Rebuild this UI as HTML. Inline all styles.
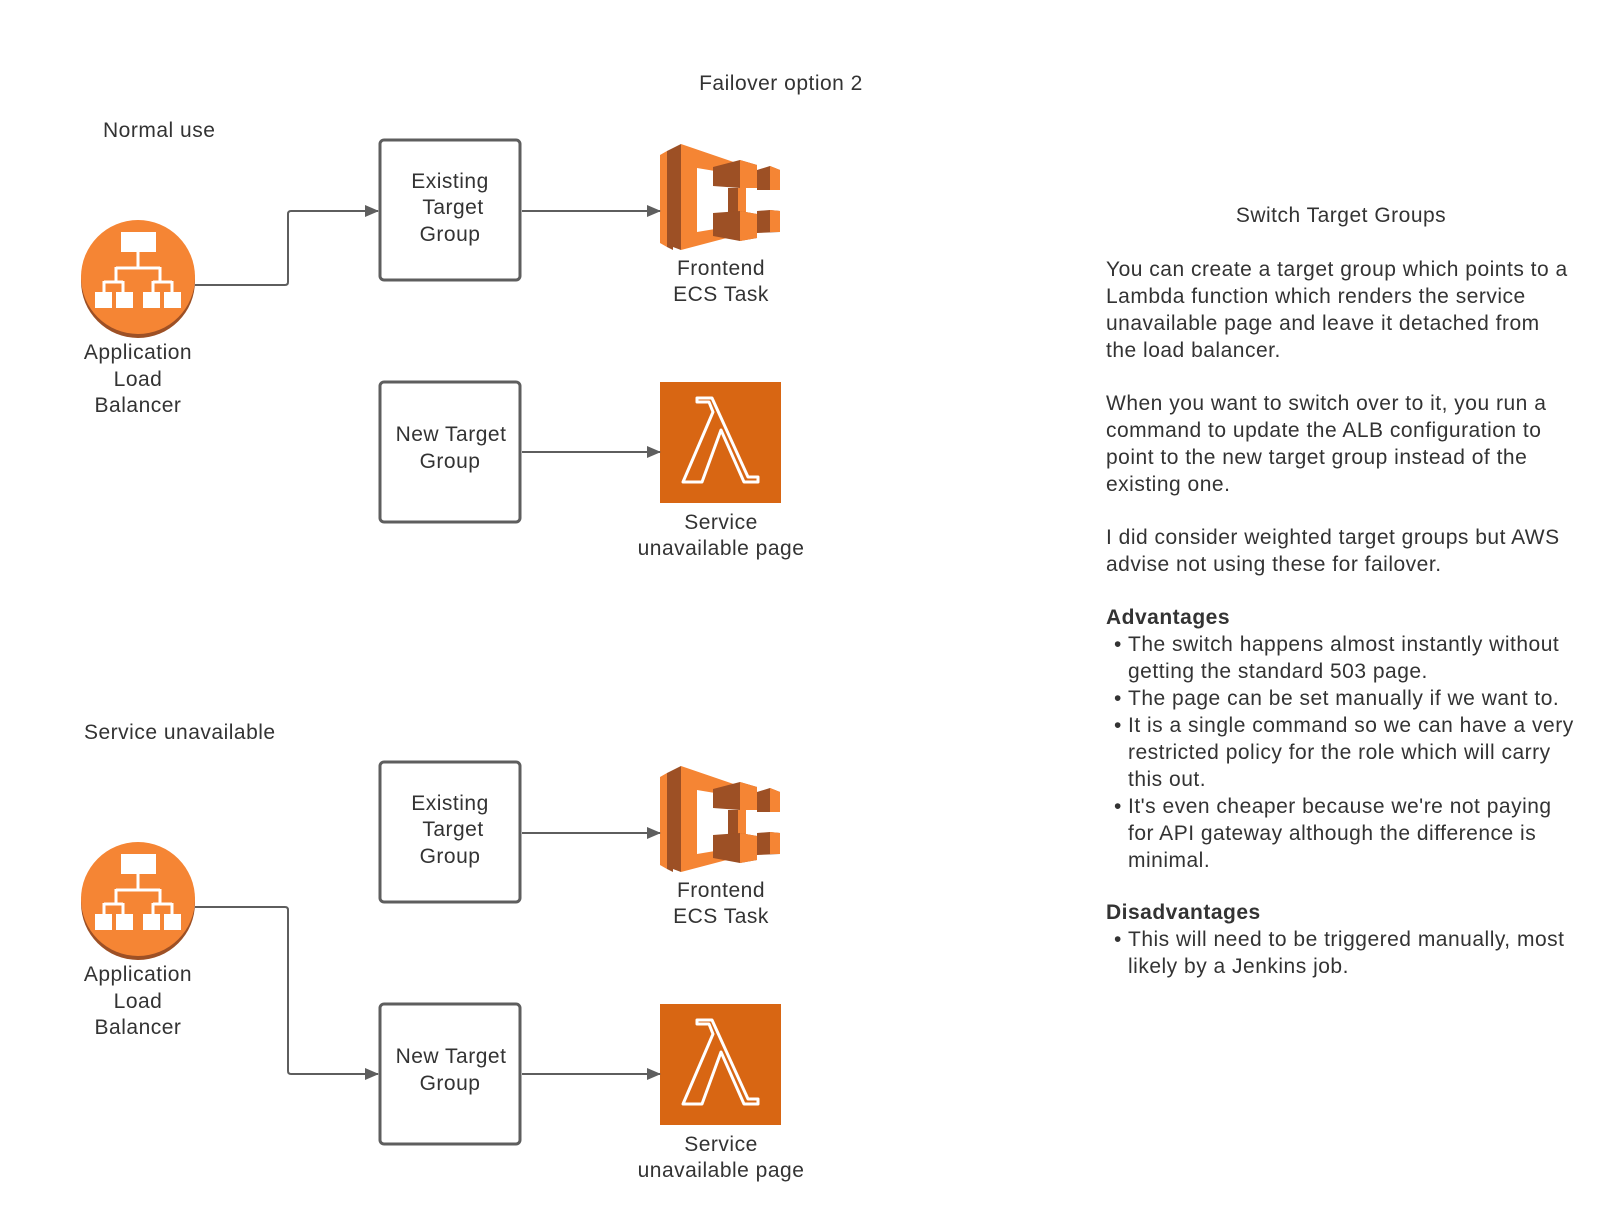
<!DOCTYPE html>
<html><head><meta charset="utf-8"><style>
html,body{margin:0;padding:0;background:#fff;}
svg{display:block;}
text{font-family:"Liberation Sans",Arial,sans-serif;fill:#333;font-size:21px;letter-spacing:0.5px;}
</style></head><body>
<svg width="1620" height="1214" viewBox="0 0 1620 1214" xmlns="http://www.w3.org/2000/svg">
<defs>
<marker id="ar" markerWidth="14" markerHeight="14" refX="13" refY="7" orient="auto" markerUnits="userSpaceOnUse">
<path d="M0,1 L14,7 L0,13 Z" fill="#5e5e5e"/></marker>
<g id="alb">
<circle cx="0" cy="4" r="57" fill="#9D5025"/>
<circle cx="0" cy="0" r="57" fill="#F58534"/>
<rect x="-17" y="-45" width="35" height="20" fill="#fff"/>
<path d="M0,-25 V-10 M-22,-9 H22 M-22,-10 V4 M22,-10 V4 M-34,5 H-15 M15,5 H34 M-34,4 V15 M-15,4 V15 M15,4 V15 M34,4 V15" stroke="#fff" stroke-width="3" fill="none"/>
<rect x="-43" y="15" width="17" height="16" fill="#fff"/>
<rect x="-22" y="15" width="17" height="16" fill="#fff"/>
<rect x="5" y="15" width="17" height="16" fill="#fff"/>
<rect x="26" y="15" width="17" height="16" fill="#fff"/>
</g>
<g id="ecs">
<polygon points="660,155 667,151 667,247 660,243" fill="#F58534"/>
<polygon points="667,151 673,148 673,250 667,247" fill="#9D5025"/>
<polygon points="673,148 681,144 681,250 673,247" fill="#9D5025"/>
<polygon points="681,144 757,170 757,178 697,168 697,232 757,222 757,230 681,250" fill="#F58534"/>
<polygon points="713,167 740,160 757,165 757,188 740,188 713,186" fill="#9D5025"/>
<polygon points="740,160 757,165 757,188 740,188" fill="#F58534"/>
<polygon points="757,170 770,166 780,170 780,190 757,190" fill="#9D5025"/>
<polygon points="770,166 780,170 780,190 770,190" fill="#F58534"/>
<rect x="728" y="188" width="10" height="24" fill="#9D5025"/>
<rect x="738" y="188" width="8" height="24" fill="#F58534"/>
<polygon points="713,213 740,211 757,214 757,238 740,241 713,236" fill="#9D5025"/>
<polygon points="740,211 757,214 757,238 740,241" fill="#F58534"/>
<polygon points="757,211 770,210 780,211 780,232 757,233" fill="#9D5025"/>
<polygon points="770,210 780,211 780,232 770,232" fill="#F58534"/>
</g>
<g id="lam">
<rect x="660" y="382" width="121" height="121" fill="#D86613"/>
<path d="M697,398 H712 L748,477 H758 V482 H744 L721,430 L702,482 H683 L713,412 L709,402 H697 Z" fill="none" stroke="#fff" stroke-width="3" stroke-linejoin="round"/>
</g>
<g id="sec">
<use href="#ecs"/>
<use href="#lam"/>
<rect x="380" y="140" width="140" height="140" rx="4" fill="#fff" stroke="#5e5e5e" stroke-width="3"/>
<text x="450" y="188" text-anchor="middle">Existing</text>
<text x="453" y="214" text-anchor="middle">Target</text>
<text x="450" y="241" text-anchor="middle">Group</text>
<path d="M522,211 H660" fill="none" stroke="#5e5e5e" stroke-width="2" marker-end="url(#ar)"/>
<text x="721" y="275" text-anchor="middle">Frontend</text>
<text x="721" y="301" text-anchor="middle">ECS Task</text>
<rect x="380" y="382" width="140" height="140" rx="4" fill="#fff" stroke="#5e5e5e" stroke-width="3"/>
<text x="451" y="441" text-anchor="middle">New Target</text>
<text x="450" y="468" text-anchor="middle">Group</text>
<path d="M522,452 H660" fill="none" stroke="#5e5e5e" stroke-width="2" marker-end="url(#ar)"/>
<text x="721" y="529" text-anchor="middle">Service</text>
<text x="721" y="555" text-anchor="middle">unavailable page</text>
<use href="#alb" x="138" y="277"/>
<text x="138" y="359" text-anchor="middle">Application</text>
<text x="138" y="386" text-anchor="middle">Load</text>
<text x="138" y="412" text-anchor="middle">Balancer</text>
</g>
</defs>

<text x="781" y="90" text-anchor="middle">Failover option 2</text>

<text x="103" y="137">Normal use</text>
<use href="#sec"/>
<path d="M195,285 H285 Q288,285 288,282 V214 Q288,211 291,211 H378" fill="none" stroke="#5e5e5e" stroke-width="2" marker-end="url(#ar)"/>

<g transform="translate(0,622)">
<use href="#sec"/>
<path d="M195,285 H285 Q288,285 288,288 V449 Q288,452 291,452 H378" fill="none" stroke="#5e5e5e" stroke-width="2" marker-end="url(#ar)"/>
</g>
<text x="84" y="739">Service unavailable</text>

<text x="1341" y="222" text-anchor="middle">Switch Target Groups</text>
<g transform="translate(-4,-1)">
<text x="1110" y="277">You can create a target group which points to a</text>
<text x="1110" y="304">Lambda function which renders the service</text>
<text x="1110" y="331">unavailable page and leave it detached from</text>
<text x="1110" y="358">the load balancer.</text>
<text x="1110" y="411">When you want to switch over to it, you run a</text>
<text x="1110" y="438">command to update the ALB configuration to</text>
<text x="1110" y="465">point to the new target group instead of the</text>
<text x="1110" y="492">existing one.</text>
<text x="1110" y="545">I did consider weighted target groups but AWS</text>
<text x="1110" y="572">advise not using these for failover.</text>
<text x="1110" y="625" style="font-weight:bold">Advantages</text>
<text x="1118" y="652">•</text><text x="1132" y="652">The switch happens almost instantly without</text>
<text x="1132" y="679">getting the standard 503 page.</text>
<text x="1118" y="706">•</text><text x="1132" y="706">The page can be set manually if we want to.</text>
<text x="1118" y="733">•</text><text x="1132" y="733">It is a single command so we can have a very</text>
<text x="1132" y="760">restricted policy for the role which will carry</text>
<text x="1132" y="787">this out.</text>
<text x="1118" y="814">•</text><text x="1132" y="814">It's even cheaper because we're not paying</text>
<text x="1132" y="841">for API gateway although the difference is</text>
<text x="1132" y="868">minimal.</text>
<text x="1110" y="920" style="font-weight:bold">Disadvantages</text>
<text x="1118" y="947">•</text><text x="1132" y="947">This will need to be triggered manually, most</text>
<text x="1132" y="974">likely by a Jenkins job.</text>
</g>
</svg>
</body></html>
